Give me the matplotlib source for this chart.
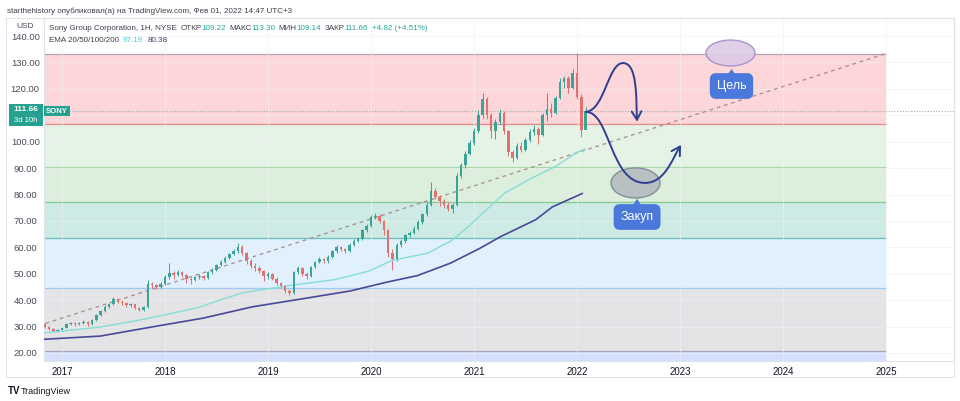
import matplotlib
matplotlib.use("Agg")
import matplotlib.pyplot as plt
from matplotlib.patches import Ellipse, FancyArrowPatch, Polygon, Rectangle
from matplotlib.path import Path
import numpy as np

plt.rcParams['font.family'] = ['Liberation Sans', 'DejaVu Sans']

# half-month candles, Nov 2016 .. Feb 1 2022
closes = [30.0, 29.2, 28.4, 28.6, 29.6, 30.9, 31.4, 30.8, 31.2, 31.9, 30.8, 32.5,
          34.2, 35.8, 37.5, 38.6, 40.6, 39.5, 38.9, 38.0, 38.4, 37.2, 36.4, 37.3,
          46.3, 45.6, 45.0, 46.2, 48.6, 50.4, 49.6, 50.8, 49.4, 48.0, 47.6, 48.6,
          49.2, 48.4, 50.6, 51.4, 53.2, 54.6, 55.9, 57.4, 58.5, 60.2, 58.0, 55.0,
          53.0, 52.0, 51.0, 49.0, 50.0, 48.2, 46.5, 45.2, 43.5, 42.8, 50.5, 52.0,
          50.0, 49.0, 52.5, 54.5, 55.5, 54.8, 56.5, 58.5, 60.2, 59.2, 58.5, 61.0,
          62.5, 63.2, 66.5, 68.2, 71.5, 72.0, 70.0, 66.5, 58.0, 55.5, 61.0, 62.5,
          64.5, 65.5, 67.0, 69.5, 72.5, 76.0, 81.5, 79.0, 77.5, 76.0, 74.5, 76.0,
          87.0, 91.0, 95.5, 99.5, 104.0, 110.0, 116.0, 110.0, 104.0, 107.5, 111.0, 104.0,
          96.0, 94.0, 98.5, 97.0, 100.5, 103.5, 105.0, 102.5, 110.0, 112.5, 111.0, 116.5,
          122.5, 124.0, 120.5, 126.0, 117.0, 104.5, 111.66]
highs = [31.4, 30.4, 29.5, 29.0, 30.0, 31.5, 31.9, 31.6, 31.7, 32.4, 32.1, 33.0,
         34.6, 36.3, 38.0, 39.0, 41.3, 41.0, 40.0, 39.3, 39.0, 38.7, 37.5, 37.8,
         47.6, 47.0, 46.2, 46.8, 49.5, 54.0, 51.2, 51.5, 51.2, 49.8, 48.6, 49.2,
         50.0, 49.7, 51.2, 52.0, 53.8, 55.2, 56.6, 58.0, 59.4, 61.5, 61.0, 58.4,
         55.6, 54.0, 53.0, 51.6, 50.8, 50.4, 48.6, 47.0, 45.6, 44.3, 51.2, 53.0,
         52.4, 50.6, 53.0, 55.0, 56.2, 56.0, 57.2, 59.0, 60.8, 60.6, 59.8, 61.6,
         63.2, 63.8, 67.0, 68.8, 72.2, 73.2, 72.6, 70.5, 67.0, 59.5, 61.8, 63.2,
         65.2, 66.2, 68.0, 70.2, 73.2, 77.0, 84.8, 82.4, 79.8, 78.4, 77.0, 76.8,
         88.0, 92.0, 96.4, 100.5, 105.2, 112.0, 118.6, 117.0, 111.0, 108.6, 112.4, 111.6,
         104.6, 97.0, 99.6, 99.8, 101.4, 104.8, 106.2, 105.6, 111.0, 118.5, 114.6, 117.4,
         124.0, 125.0, 124.8, 127.5, 133.5, 118.0, 113.3]
lows = [29.6, 28.8, 27.9, 27.8, 28.3, 29.3, 30.5, 30.4, 30.5, 30.9, 30.3, 30.6,
        32.2, 34.0, 35.5, 37.0, 38.3, 39.0, 38.3, 37.6, 37.5, 36.8, 35.9, 36.0,
        37.0, 44.8, 44.3, 44.7, 45.9, 48.0, 48.2, 49.0, 48.8, 46.5, 46.0, 47.2,
        48.0, 47.8, 48.0, 50.0, 51.0, 52.8, 54.2, 55.5, 57.0, 58.0, 57.2, 53.8,
        52.0, 51.2, 50.2, 47.4, 48.2, 47.5, 45.8, 44.6, 42.8, 41.8, 42.5, 49.8,
        49.2, 48.0, 48.6, 52.0, 54.0, 54.2, 54.2, 56.0, 58.0, 58.5, 57.8, 58.2,
        60.6, 62.0, 62.8, 66.0, 67.8, 70.8, 69.2, 64.8, 56.5, 51.3, 55.0, 60.2,
        61.8, 63.8, 65.0, 66.5, 69.0, 72.0, 75.5, 78.2, 75.8, 74.8, 73.6, 73.0,
        75.6, 86.2, 90.2, 94.8, 98.6, 103.2, 109.0, 108.5, 101.5, 101.0, 106.8, 103.0,
        94.5, 92.2, 93.4, 96.2, 96.4, 99.8, 102.6, 99.0, 102.0, 108.0, 109.4, 110.4,
        116.0, 120.5, 118.5, 119.8, 116.0, 101.8, 109.1]
first_open = 31.0
start_year = 2016.833

# EMA lines (decimal year, value)
ema50_t = [2016.83, 2017.37, 2017.76, 2018.30, 2018.75, 2019.20, 2019.65, 2019.98, 2020.20,
           2020.55, 2020.78, 2020.95, 2021.10, 2021.30, 2021.55, 2021.80, 2022.00, 2022.08]
ema50_v = [27.6, 29.8, 32.5, 37.0, 42.8, 45.5, 47.8, 51.0, 55.0,
           57.8, 62.5, 68.0, 73.5, 80.6, 86.0, 90.8, 96.0, 97.19]
ema200_t = [2016.83, 2017.37, 2017.82, 2018.37, 2018.85, 2019.33, 2019.80, 2020.15,
            2020.45, 2020.77, 2021.06, 2021.25, 2021.60, 2021.76, 2022.05]
ema200_v = [25.2, 26.4, 29.5, 33.2, 37.5, 40.5, 43.5, 46.8,
            49.3, 54.0, 59.7, 63.9, 70.5, 75.3, 80.38]

# fibonacci retracement drawing
fib_high, fib_low = 133.4, 20.6
fib_ratios = [0, 0.236, 0.382, 0.5, 0.618, 0.786, 1, 1.618]
fib_colors = ["#787b86", "#f23645", "#81c784", "#4caf50", "#089981", "#64b5f6", "#787b86", "#2962ff"]
fib_t = [2016.70, 2025.0]

trend_t = [2016.84, 2025.0]
trend_v = [31.2, 133.4]
last_price = 111.66
years = list(range(2017, 2026))

W, H = 960, 401
fig = plt.figure(figsize=(W / 100, H / 100), dpi=100)
fig.patch.set_facecolor("white")
ax = fig.add_axes([44 / W, 1 - 361 / H, 910 / W, 343 / H])
ax.set_xlim(2016.825, 2025.66)
ax.set_ylim(16.97, 146.85)
for s in ax.spines.values():
    s.set_color("#e0e3eb")
    s.set_linewidth(0.8)

# fib bands and lines
levels = [fib_high - r * (fib_high - fib_low) for r in fib_ratios]
for i in range(1, len(levels)):
    ax.fill_between(fib_t, levels[i], levels[i - 1], color=fib_colors[i], alpha=0.2, lw=0, zorder=1)
for lv, col in zip(levels, fib_colors):
    ax.hlines(lv, fib_t[0], fib_t[1], color=col, alpha=0.55, lw=0.9, zorder=2)

yt = list(range(20, 150, 10))
ax.set_yticks(yt)
# the 110 label sits under the price tag, hidden as in TradingView
ax.set_yticklabels(["" if v == 110 else "%.2f" % v for v in yt])
ax.set_xticks(years)
ax.set_xticklabels([str(y) for y in years])
ax.tick_params(axis="y", length=0, pad=13.5, labelsize=6.8, labelcolor="#4a4e59")
ax.tick_params(axis="x", length=0, pad=4.5, labelsize=7, labelcolor="#131722")
for lbl in ax.get_yticklabels():
    lbl.set_ha("center")
ax.grid(True, color="#eef0f4", lw=0.6, alpha=0.7, zorder=1.5)
ax.set_axisbelow(False)

# trend line and current price line
ax.plot(trend_t, trend_v, color="#a48c8c", lw=0.9, ls=(0, (3, 3)), zorder=3)
ax.axhline(last_price, color="#a9adb5", lw=0.8, ls=(0, (1, 1.5)), zorder=3)

# candles
c = np.array(closes)
o = np.array([first_open] + closes[:-1])
hi = np.array(highs)
lo = np.array(lows)
t = start_year + np.arange(len(c)) / 24
cols = np.where(c >= o, "#3aa597", "#e2706c")
ax.vlines(t, lo, hi, colors=cols, lw=0.7, zorder=4)
body = np.maximum(np.abs(c - o), 0.3)
ax.bar(t, body, bottom=np.minimum(o, c), width=0.024, color=cols, lw=0, zorder=5)

# EMAs
ax.plot(ema50_t, ema50_v, color="#86dcd6", lw=1.0, zorder=4)
ax.plot(ema200_t, ema200_v, color="#4a4899", lw=1.2, zorder=4)

# ideas drawn on chart
ax.add_patch(Ellipse((2023.49, 133.6), 0.476, 9.8, fc="#dccbe6", ec="#a48cc8", lw=1.0, alpha=0.9, zorder=6))
ax.add_patch(Ellipse((2022.568, 84.4), 0.476, 11.4, fc="#b5bbbf", ec="#7e888e", lw=1.0, alpha=0.9, zorder=6))

arrow_col = "#2f3f8f"
up_path = Path([(2022.087, 111.3), (2022.27, 112.0), (2022.30, 129.8), (2022.447, 129.8),
                (2022.59, 129.8), (2022.573, 115.8), (2022.583, 107.6)],
               [Path.MOVETO] + [Path.CURVE4] * 6)
dn_path = Path([(2022.087, 111.3), (2022.32, 111.3), (2022.32, 84.4), (2022.66, 84.4),
                (2022.85, 84.4), (2022.92, 93.1), (2023.01, 98.8)],
               [Path.MOVETO] + [Path.CURVE4] * 6)
for p in (up_path, dn_path):
    ax.add_patch(FancyArrowPatch(path=p, arrowstyle="->,head_length=0.6,head_width=0.35",
                                 mutation_scale=10, color=arrow_col, lw=1.4, zorder=7))

box_col = "#4a78db"
for x, y, s, apex, base in [(2023.50, 121.1, "Цель", 127.6, 125.2), (2022.583, 71.5, "Закуп", 78.4, 76.0)]:
    ax.text(x, y, s, ha="center", va="center", fontsize=9, color="white", zorder=9,
            bbox=dict(boxstyle="round,pad=0.55,rounding_size=0.5", fc=box_col, ec="none"))
    ax.add_patch(Polygon([(x - 0.04, base), (x, apex), (x + 0.04, base)], closed=True,
                         fc=box_col, ec="none", zorder=9))

# price tag on left scale
ytr = ax.get_yaxis_transform()
ax.add_patch(Rectangle((-35 / 910, 105.8), 34 / 910, 8.4, transform=ytr, fc="#26a08f", ec="none",
                       clip_on=False, zorder=10))
ax.text(-18 / 910, 112.2, "111.66", transform=ytr, ha="center", va="center", fontsize=6,
        color="white", fontweight="bold", clip_on=False, zorder=11)
ax.text(-18 / 910, 107.9, "3d 10h", transform=ytr, ha="center", va="center", fontsize=5.5,
        color="white", clip_on=False, zorder=11)
ax.add_patch(Rectangle((0, 109.7), 26 / 910, 3.8, transform=ytr, fc="#26a08f", ec="none", zorder=10))
ax.text(13 / 910, 111.6, "SONY", transform=ytr, ha="center", va="center", fontsize=5.6,
        color="white", fontweight="bold", zorder=11)

# outer panel frame
fig.patches.append(Rectangle((6 / W, 1 - 377 / H), 948 / W, 359 / H, transform=fig.transFigure,
                             fill=False, ec="#e0e3eb", lw=0.8))
fig.patches.append(Rectangle((7 / W, 1 - 33 / H), 36 / W, 12 / H, transform=fig.transFigure,
                             fc="white", ec="none", zorder=5))
fig.text(25 / W, 1 - 27 / H, "USD", ha="center", va="center", fontsize=6, color="#4a4e59", zorder=6)

def chain(x_px, y_px, pieces, size):
    r = fig.canvas.get_renderer()
    x = x_px
    for s, col, gap in pieces:
        tx = fig.text(x / W, 1 - y_px / H, s, color=col, fontsize=size, ha="left", va="center")
        x += tx.get_window_extent(r).width + gap

dark = "#3b3f4a"
green = "#26a69a"
chain(7, 11, [("starthehistory опубликовал(а) на TradingView.com, Фев 01, 2022 14:47 UTC+3", "#3b3f4a", 0)], 5.8)
chain(49, 29, [("Sony Group Corporation, 1H, NYSE", dark, 4), ("ОТКР", dark, 0), ("109.22", green, 3),
               ("МАКС", dark, 0), ("113.30", green, 3), ("МИН", dark, 0), ("109.14", green, 3),
               ("ЗАКР", dark, 0), ("111.66", green, 4), ("+4.82 (+4.51%)", green, 0)], 5.8)
chain(49, 40, [("EMA 20/50/100/200", dark, 4), ("97.19", "#4fc9d6", 4), ("80.38", "#3b3f6a", 0)], 5.8)

# TradingView logo
fig.text(8 / W, 1 - 391 / H, "TV", fontsize=7, fontweight="bold", color="#131722", ha="left", va="center")
fig.text(21 / W, 1 - 391 / H, "TradingView", fontsize=6.5, color="#131722", ha="left", va="center")

fig.savefig("out.png", dpi=100)
